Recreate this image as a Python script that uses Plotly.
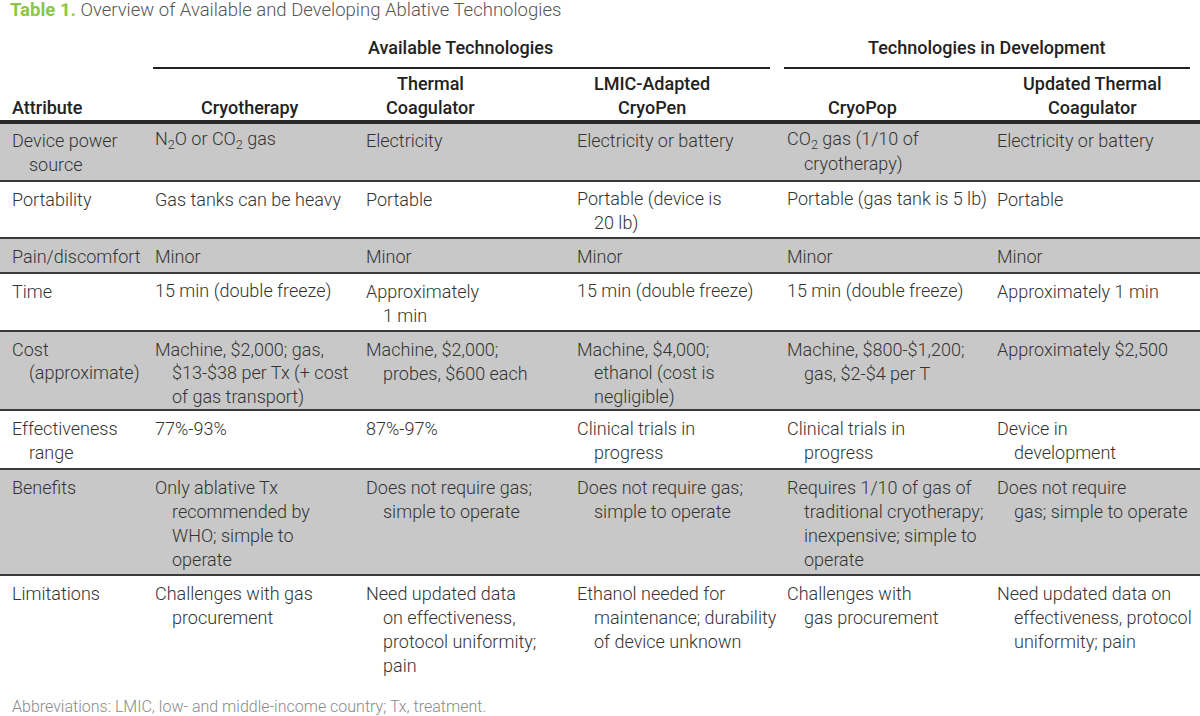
import plotly.graph_objects as go

# ---------------- data ----------------
title_label = "Table 1."
title_text = "Overview of Available and Developing Ablative Technologies"
group_headers = ["Available Technologies", "Technologies in Development"]
column_headers = [
    ["Attribute"],
    ["Cryotherapy"],
    ["Thermal", "Coagulator"],
    ["LMIC-Adapted", "CryoPen"],
    ["CryoPop"],
    ["Updated Thermal", "Coagulator"],
]
attributes = [
    ["Device power", "source"],
    ["Portability"],
    ["Pain/discomfort"],
    ["Time"],
    ["Cost", "(approximate)"],
    ["Effectiveness", "range"],
    ["Benefits"],
    ["Limitations"],
]
cryotherapy = [
    ["N<sub>2</sub>O or CO<sub>2</sub> gas"],
    ["Gas tanks can be heavy"],
    ["Minor"],
    ["15 min (double freeze)"],
    ["Machine, $2,000; gas,", "$13-$38 per Tx (+ cost", "of gas transport)"],
    ["77%-93%"],
    ["Only ablative Tx", "recommended by", "WHO; simple to", "operate"],
    ["Challenges with gas", "procurement"],
]
thermal_coagulator = [
    ["Electricity"],
    ["Portable"],
    ["Minor"],
    ["Approximately", "1 min"],
    ["Machine, $2,000;", "probes, $600 each"],
    ["87%-97%"],
    ["Does not require gas;", "simple to operate"],
    ["Need updated data", "on effectiveness,", "protocol uniformity;", "pain"],
]
lmic_cryopen = [
    ["Electricity or battery"],
    ["Portable (device is", "20 lb)"],
    ["Minor"],
    ["15 min (double freeze)"],
    ["Machine, $4,000;", "ethanol (cost is", "negligible)"],
    ["Clinical trials in", "progress"],
    ["Does not require gas;", "simple to operate"],
    ["Ethanol needed for", "maintenance; durability", "of device unknown"],
]
cryopop = [
    ["CO<sub>2</sub> gas (1/10 of", "cryotherapy)"],
    ["Portable (gas tank is 5 lb)"],
    ["Minor"],
    ["15 min (double freeze)"],
    ["Machine, $800-$1,200;", "gas, $2-$4 per T"],
    ["Clinical trials in", "progress"],
    ["Requires 1/10 of gas of", "traditional cryotherapy;", "inexpensive; simple to", "operate"],
    ["Challenges with", "gas procurement"],
]
updated_thermal = [
    ["Electricity or battery"],
    ["Portable"],
    ["Minor"],
    ["Approximately 1 min"],
    ["Approximately $2,500"],
    ["Device in", "development"],
    ["Does not require", "gas; simple to operate"],
    ["Need updated data on", "effectiveness, protocol", "uniformity; pain"],
]
footnote = "Abbreviations: LMIC, low- and middle-income country; Tx, treatment."

# ---------------- layout constants ----------------
W, H = 1200, 716
col_left = [10, 153, 364, 575, 785, 995]
header_centers = [None, 250, 430, 652, 862, 1092]
group_spans = [(153, 770), (784, 1190)]
row_heights = [59, 57, 35, 58, 79, 59, 106, 108]
table_top = 122
line_h = 24
indent = 17
first_line_offset = 18

BODY_FONT = "Roboto, 'Liberation Sans', Arial, sans-serif"
HEAD_FONT = "Roboto, 'Liberation Sans', sans-serif"
body_color = "#333333"
gray_fill = "#c8c8c8"
rule_color = "#3a3a3a"

columns = [attributes, cryotherapy, thermal_coagulator, lmic_cryopen, cryopop, updated_thermal]

shapes = []
annotations = []

def text(x, y, s, size=18, color=body_color, family=BODY_FONT, xanchor="left", weight=300):
    font = dict(family=family, size=size, color=color, weight=weight)
    annotations.append(dict(x=x, y=y, xref="x", yref="y", text=s, showarrow=False,
                            xanchor=xanchor, yanchor="middle", font=font))

# title
text(8, 10, f"<b><span style='color:#8dc63f'>{title_label}</span></b> "
     f"<span style='color:#555555'>{title_text}</span>",
     size=18.5, color="#555555")

# group headers and their rules
for (x0, x1), g in zip(group_spans, group_headers):
    text((x0 + x1) / 2 - 1, 47, g, size=18, color="#222222",
         family=HEAD_FONT, xanchor="center", weight=500)
    shapes.append(dict(type="line", xref="x", yref="y", x0=x0, x1=x1, y0=68, y1=68,
                       line=dict(color="#222222", width=2)))

# column headers
for ci, hdr in enumerate(column_headers):
    ys = [107] if len(hdr) == 1 else [83, 107]
    for ln, y in zip(hdr, ys):
        if ci == 0:
            text(col_left[0], y, ln, size=18, color="#222222", family=HEAD_FONT, weight=500)
        else:
            text(header_centers[ci], y, ln, size=18, color="#222222",
                 family=HEAD_FONT, xanchor="center", weight=500)

# row backgrounds and rules
y = table_top
row_tops = []
for ri, h in enumerate(row_heights):
    row_tops.append(y)
    if ri % 2 == 0:
        shapes.append(dict(type="rect", xref="x", yref="y", x0=0, x1=W, y0=y, y1=y + h,
                           fillcolor=gray_fill, line=dict(width=0), layer="below"))
    if ri > 0:
        shapes.append(dict(type="line", xref="x", yref="y", x0=0, x1=W, y0=y, y1=y,
                           line=dict(color=rule_color, width=2)))
    y += h
shapes.append(dict(type="line", xref="x", yref="y", x0=0, x1=W, y0=table_top, y1=table_top,
                   line=dict(color="#2a2a2a", width=4)))

# cell text
for ci, col in enumerate(columns):
    for ri, cell in enumerate(col):
        for li, ln in enumerate(cell):
            x = col_left[ci] + (indent if li > 0 else 0)
            yy = row_tops[ri] + first_line_offset + li * line_h
            text(x, yy, ln)

# footnote
text(10, 706, footnote, size=16, color="#8a8a8a")

fig = go.Figure()
fig.update_layout(
    width=W, height=H,
    margin=dict(l=0, r=0, t=0, b=0),
    paper_bgcolor="white", plot_bgcolor="white",
    xaxis=dict(range=[0, W], visible=False, fixedrange=True),
    yaxis=dict(range=[H, 0], visible=False, fixedrange=True),
    shapes=shapes, annotations=annotations,
    showlegend=False,
)
fig.write_html("out.html", config={"displayModeBar": False},
               post_script="document.body.style.margin='0px';document.body.style.overflow='hidden';")
